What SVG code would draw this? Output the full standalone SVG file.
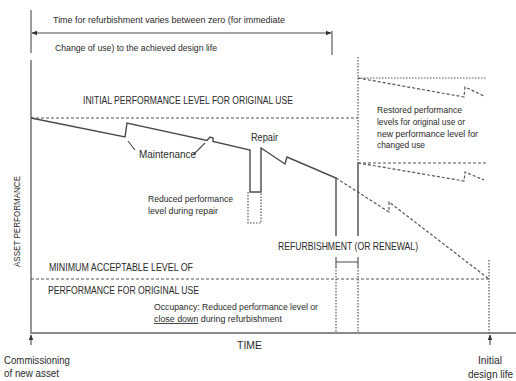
<svg xmlns="http://www.w3.org/2000/svg" width="516" height="381" viewBox="0 0 516 381">
<defs>
<style>
.t{font-family:"Liberation Sans",Arial,sans-serif;fill:#2a2a2a;}
.ax{stroke:#8a8a8a;stroke-width:1.8;fill:none;}
.solid{stroke:#4a4a4a;stroke-width:1.4;fill:none;}
.dash{stroke:#555;stroke-width:1.2;fill:none;stroke-dasharray:3,2;}
.dot{stroke:#555;stroke-width:1.2;fill:none;stroke-dasharray:1.5,1.5;}
.thin{stroke:#4a4a4a;stroke-width:1.1;fill:none;}
</style>
<marker id="ah" viewBox="0 0 10 10" refX="9" refY="5" markerWidth="6" markerHeight="6" orient="auto-start-reverse" markerUnits="userSpaceOnUse">
<path d="M0,1 L10,5 L0,9 Z" fill="#333"/>
</marker>
</defs>
<rect width="516" height="381" fill="#fff"/>

<g id="axes">
<line class="ax" x1="31" y1="60" x2="31" y2="333"/>
<line class="ax" x1="30" y1="333" x2="516" y2="333"/>
</g>

<g id="connectors">
<line class="thin" x1="31" y1="10" x2="31" y2="53"/>
<line class="thin" x1="332" y1="31" x2="332" y2="55"/>
<line class="thin" x1="32" y1="33" x2="331" y2="33" marker-start="url(#ah)" marker-end="url(#ah)"/>
<line class="dash" x1="31" y1="118" x2="358" y2="118"/>
<line class="dash" x1="31" y1="279" x2="489" y2="279"/>
<path class="solid" d="M31,118 L125,137 L127,123 L207,140.5 L210,137 L213,138 L213,141.5 L250,150 L250,192 L261,192 L261,148 L285,164 L287,157 L336,178 L336,236"/>
<line class="solid" x1="358" y1="163" x2="358" y2="236"/>
<path class="dot" d="M248,192 V223 H261 V192"/>
<path class="dash" d="M336,178 L389,212 L389,202 L489,279"/>
<line class="dot" x1="358" y1="78" x2="486" y2="78"/>
<path class="dash" d="M358,78 L464,97 L465,87 L484,96"/>
<line class="dash" x1="358" y1="163" x2="486" y2="163"/>
<path class="dash" d="M358,163 L464,181 L465,172 L484,180"/>
<line class="dot" x1="358" y1="57" x2="358" y2="163"/>
<line class="dot" x1="336" y1="267" x2="336" y2="333"/>
<line class="dot" x1="358" y1="267" x2="358" y2="333"/>
<line class="dot" x1="489" y1="260" x2="489" y2="333"/>
<path class="thin" d="M336,257 V267 M358,257 V267 M336,262 H358"/>
<line class="thin" x1="128" y1="141" x2="135" y2="150"/>
<line class="thin" x1="193" y1="155" x2="205" y2="143"/>
<line class="thin" x1="31" y1="345" x2="31" y2="335" marker-end="url(#ah)"/>
<line class="thin" x1="490" y1="345" x2="490" y2="335" marker-end="url(#ah)"/>
</g>

<g id="labels">
<text class="t" x="53" y="23" font-size="9" textLength="232" lengthAdjust="spacingAndGlyphs">Time for refurbishment varies between zero (for immediate</text>
<text class="t" x="55" y="51" font-size="9" textLength="162" lengthAdjust="spacingAndGlyphs">Change of use) to the achieved design life</text>
<text class="t" x="83" y="104" font-size="10.5" textLength="210" lengthAdjust="spacingAndGlyphs">INITIAL PERFORMANCE LEVEL FOR ORIGINAL USE</text>
<text class="t" x="377" y="113" font-size="9" textLength="85" lengthAdjust="spacingAndGlyphs">Restored performance</text>
<text class="t" x="377" y="125" font-size="9" textLength="88" lengthAdjust="spacingAndGlyphs">levels for original use or</text>
<text class="t" x="377" y="136.5" font-size="9" textLength="101" lengthAdjust="spacingAndGlyphs">new performance level for</text>
<text class="t" x="377" y="148" font-size="9" textLength="48" lengthAdjust="spacingAndGlyphs">changed use</text>
<text class="t" x="251" y="141" font-size="10.5" textLength="27" lengthAdjust="spacingAndGlyphs">Repair</text>
<text class="t" x="139" y="158" font-size="10.5" textLength="57" lengthAdjust="spacingAndGlyphs">Maintenance</text>
<text class="t" x="148" y="202" font-size="8.5" textLength="85" lengthAdjust="spacingAndGlyphs">Reduced performance</text>
<text class="t" x="148" y="213.5" font-size="8.5" textLength="70" lengthAdjust="spacingAndGlyphs">level during repair</text>
<text class="t" transform="translate(20,267) rotate(-90)" x="0" y="0" font-size="9.5" textLength="91" lengthAdjust="spacingAndGlyphs">ASSET PERFORMANCE</text>
<text class="t" x="49" y="270.5" font-size="10.5" textLength="144" lengthAdjust="spacingAndGlyphs">MINIMUM ACCEPTABLE LEVEL OF</text>
<text class="t" x="48" y="293.5" font-size="10.5" textLength="151" lengthAdjust="spacingAndGlyphs">PERFORMANCE FOR ORIGINAL USE</text>
<text class="t" x="154" y="310" font-size="8.5" textLength="164" lengthAdjust="spacingAndGlyphs">Occupancy:  Reduced performance level or</text>
<text class="t" x="154" y="322" font-size="8.5" textLength="128" lengthAdjust="spacingAndGlyphs"><tspan text-decoration="underline">close down</tspan> during refurbishment</text>
<text class="t" x="278" y="249.5" font-size="10.5" textLength="140" lengthAdjust="spacingAndGlyphs">REFURBISHMENT (OR RENEWAL)</text>
<text class="t" x="237" y="348.5" font-size="10.5" textLength="25" lengthAdjust="spacingAndGlyphs">TIME</text>
<text class="t" x="4" y="364" font-size="11" textLength="66" lengthAdjust="spacingAndGlyphs">Commissioning</text>
<text class="t" x="4" y="376.5" font-size="11" textLength="55" lengthAdjust="spacingAndGlyphs">of new asset</text>
<text class="t" x="478" y="364" font-size="11" textLength="24" lengthAdjust="spacingAndGlyphs">Initial</text>
<text class="t" x="468" y="377.5" font-size="11" textLength="45" lengthAdjust="spacingAndGlyphs">design life</text>
</g>
</svg>
